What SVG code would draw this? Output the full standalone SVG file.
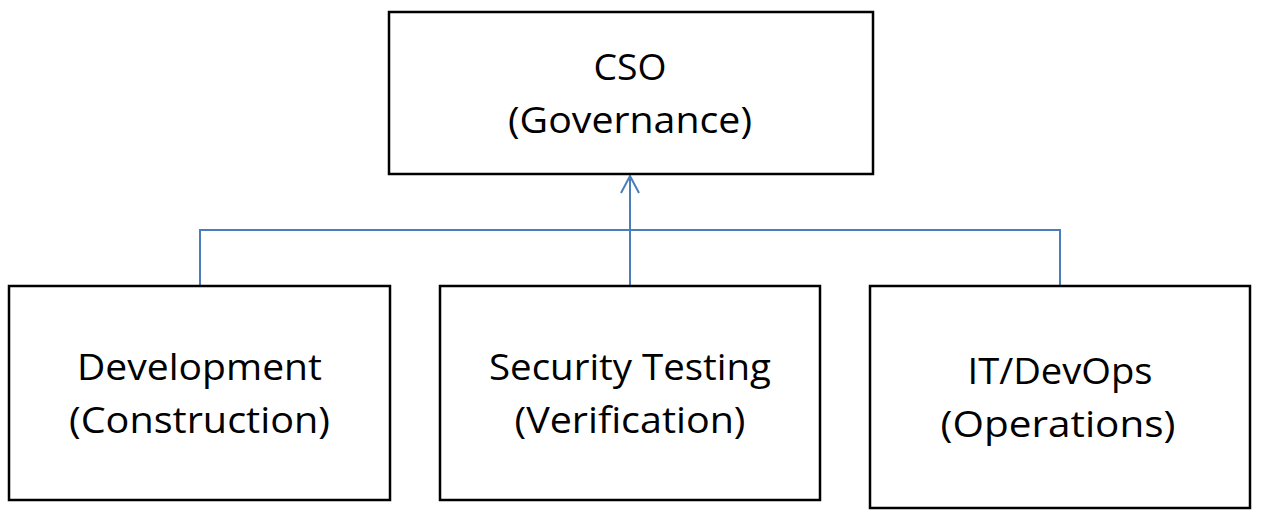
<svg xmlns="http://www.w3.org/2000/svg" width="1261" height="521" viewBox="0 0 1261 521">
<style>
.box{fill:#fff;stroke:#000;stroke-width:2.5}
.t{font-family:"Open Sans","Liberation Sans",sans-serif;font-size:37px;fill:#000;text-anchor:middle}
.c{fill:none;stroke:#4a7ebb;stroke-width:2}
</style>
<defs>
<marker id="arr" viewBox="0 0 20 20" refX="19" refY="10" markerWidth="20" markerHeight="20" markerUnits="userSpaceOnUse" orient="auto">
<polyline points="2,1 19,10 2,19" fill="none" stroke="#4a7ebb" stroke-width="2"/>
</marker>
</defs>
<rect width="1261" height="521" fill="#fff"/>
<g id="connectors">
<path class="c" d="M200,286 V230 H1060 V286"/>
<path class="c" d="M630,286 V176" marker-end="url(#arr)"/>
</g>
<g id="cso">
<rect class="box" x="389" y="12" width="484" height="162"/>
<text class="t" x="630" y="80" textLength="73" lengthAdjust="spacingAndGlyphs">CSO</text>
<text class="t" x="630" y="133" textLength="244" lengthAdjust="spacingAndGlyphs">(Governance)</text>
</g>
<g id="development">
<rect class="box" x="9" y="286" width="381" height="214"/>
<text class="t" x="199.5" y="380" textLength="245" lengthAdjust="spacingAndGlyphs">Development</text>
<text class="t" x="199.5" y="433" textLength="261" lengthAdjust="spacingAndGlyphs">(Construction)</text>
</g>
<g id="security-testing">
<rect class="box" x="440" y="286" width="380" height="214"/>
<text class="t" x="630" y="380" textLength="282" lengthAdjust="spacingAndGlyphs">Security Testing</text>
<text class="t" x="630" y="433" textLength="231" lengthAdjust="spacingAndGlyphs">(Verification)</text>
</g>
<g id="it-devops">
<rect class="box" x="870" y="286" width="380" height="222"/>
<text class="t" x="1060" y="384" textLength="185" lengthAdjust="spacingAndGlyphs">IT/DevOps</text>
<text class="t" x="1058" y="437" textLength="235" lengthAdjust="spacingAndGlyphs">(Operations)</text>
</g>
</svg>
